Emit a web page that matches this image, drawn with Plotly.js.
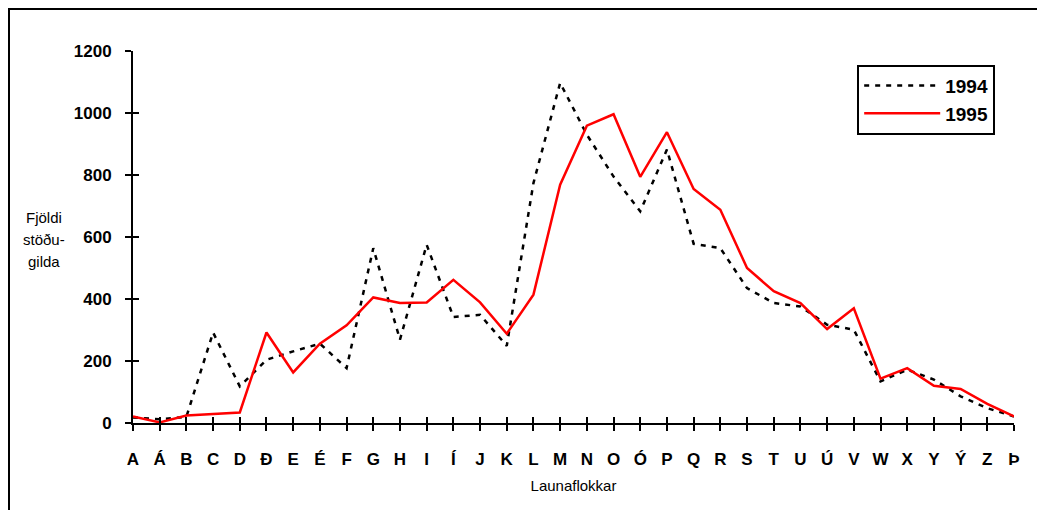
<!DOCTYPE html>
<html>
<head>
<meta charset="utf-8">
<script src="https://cdn.plot.ly/plotly-3.0.1.min.js"></script>
<style>
html,body{margin:0;padding:0;background:#fff;}
#wrap{position:relative;width:1037px;height:510px;overflow:hidden;}
#chart{position:absolute;left:0;top:0;width:1037px;height:510px;}
#frame{position:absolute;left:8px;top:8px;width:1040px;height:520px;border-left:2px solid #000;border-top:2px solid #000;pointer-events:none;}
</style>
</head>
<body>
<div id="wrap"><div id="chart"></div><div id="frame"></div></div>
<script>
const categories = ["A","Á","B","C","D","Ð","E","É","F","G","H","I","Í","J","K","L","M","N","O","Ó","P","Q","R","S","T","U","Ú","V","W","X","Y","Ý","Z","Þ"];
const values1994 = [18,12,20,292,118,204,231,256,177,564,269,575,342,349,249,774,1097,930,795,683,882,578,564,435,387,376,317,301,134,172,140,86,48,21];
const values1995 = [21,2,24,30,34,292,163,256,315,405,387,389,462,389,288,414,769,959,996,794,938,755,688,500,425,387,303,370,143,177,120,110,62,21];
const seriesNames = ["1994","1995"];
const yTickVals = [0,200,400,600,800,1000,1200];
const yTitleLines = ["Fjöldi","stöðu-","gilda"];

const font = "Liberation Sans, Arial, sans-serif";

const traces = [
  {x: categories, y: values1994, name: seriesNames[0], legendgroup: "a", type: "scatter", mode: "lines",
   line: {color: "#000", width: 2.5, dash: "5px,6px"}, xaxis: "x", yaxis: "y"},
  {x: categories, y: values1995, name: seriesNames[1], legendgroup: "b", type: "scatter", mode: "lines",
   line: {color: "#ff0000", width: 2.5}, xaxis: "x2", yaxis: "y2"}
];

const baseX = {
  type: "category", categoryorder: "array", categoryarray: categories,
  range: [0, categories.length - 1], showgrid: false, zeroline: false, fixedrange: true
};
const baseY = {
  range: [0, 1200], tickvals: yTickVals, showgrid: false, zeroline: false, fixedrange: true
};

const layout = {
  width: 1037, height: 510,
  margin: {l: 133, r: 23, t: 51, b: 87},
  paper_bgcolor: "rgba(0,0,0,0)", plot_bgcolor: "rgba(0,0,0,0)",
  font: {family: font, color: "#000"},
  showlegend: true,
  legend: {
    x: 0.822, y: 0.963, xanchor: "left", yanchor: "top",
    bgcolor: "#fff", bordercolor: "#000", borderwidth: 2,
    font: {family: font, size: 19, color: "#000", weight: "bold"},
    itemwidth: 76, tracegroupgap: 0, traceorder: "grouped"
  },
  xaxis: Object.assign({}, baseX, {
    showline: true, linecolor: "#000", linewidth: 2,
    ticks: "outside", ticklen: 6, tickwidth: 2, tickcolor: "#000",
    ticklabelstandoff: 14,
    tickfont: {family: font, size: 17, color: "#000", weight: "bold"},
    title: {text: "Launaflokkar", font: {family: font, size: 15, color: "#000"}, standoff: 12}
  }),
  yaxis: Object.assign({}, baseY, {
    showline: true, linecolor: "#000", linewidth: 2,
    ticks: "outside", ticklen: 6, tickwidth: 2, tickcolor: "#000",
    ticklabelstandoff: 10,
    tickfont: {family: font, size: 17, color: "#000", weight: "bold"}
  }),
  xaxis2: Object.assign({}, baseX, {
    overlaying: "x", anchor: "y2", side: "bottom", showline: false,
    ticks: "inside", ticklen: 6, tickwidth: 2, tickcolor: "#000", showticklabels: false
  }),
  yaxis2: Object.assign({}, baseY, {
    overlaying: "y", anchor: "x2", side: "left", showline: false,
    ticks: "inside", ticklen: 6, tickwidth: 2, tickcolor: "#000", showticklabels: false
  }),
  annotations: yTitleLines.map((t, i) => ({
    text: t, xref: "paper", yref: "paper",
    x: -0.101, y: 0.492, yshift: (1 - i) * 22,
    xanchor: "center", yanchor: "middle", showarrow: false,
    font: {family: font, size: 15, color: "#000"}
  }))
};

Plotly.newPlot("chart", traces, layout, {staticPlot: true, displayModeBar: false});
</script>
</body>
</html>
